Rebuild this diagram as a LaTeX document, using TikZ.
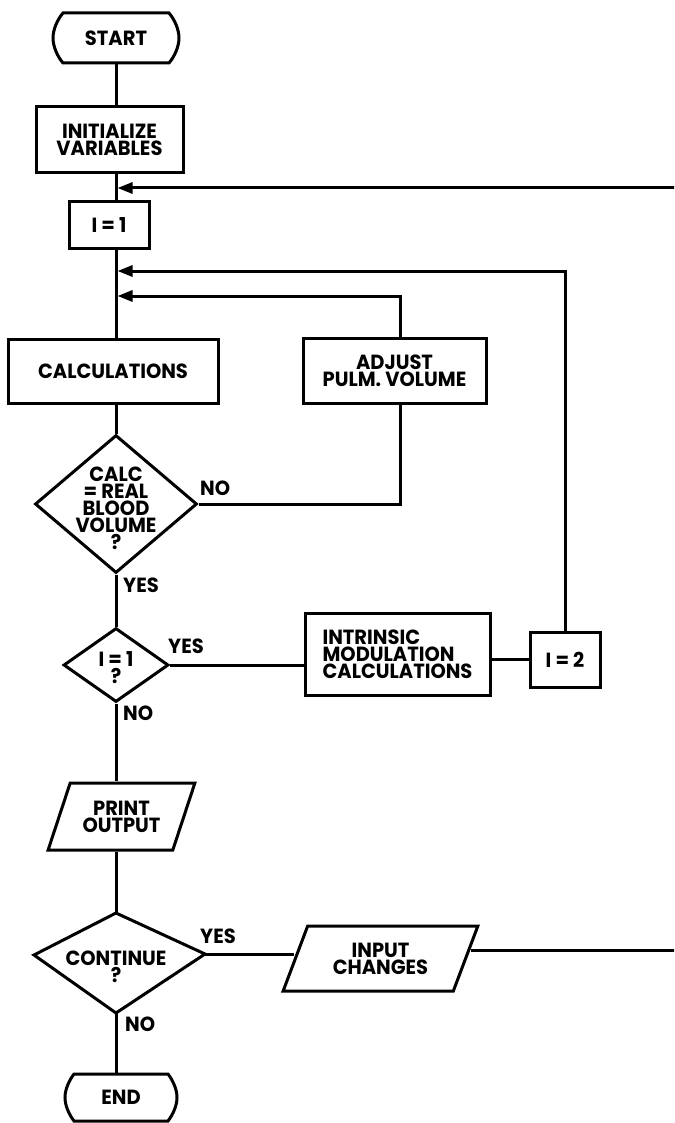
\documentclass[tikz,border=0pt]{standalone}
\usepackage{fontspec}
\setmainfont{Poppins}[FakeStretch=0.95]
\usetikzlibrary{shapes.geometric,arrows.meta,calc}
\tikzset{
  base/.style={font=\bfseries\fontsize{20.5}{17}\selectfont, inner sep=0pt, align=center},
  line/.style={line width=3pt},
  boxnode/.style={base, draw, line width=3pt, rectangle},
  io/.style={base, draw, line width=3pt, trapezium, trapezium stretches=true,
    trapezium left angle=62, trapezium right angle=118},
  dia/.style={draw, diamond, line width=3pt, inner sep=0pt},
  lbl/.style={base, anchor=base west},
  arr/.style={line, -{Triangle[length=15pt,width=11pt]}},
}
\begin{document}
\begin{tikzpicture}[x=1pt,y=-1pt,line join=miter]
\useasboundingbox (0,0) rectangle (674,1123);
\fill[white] (0,0) rectangle (674,1123);
\clip (0,0) rectangle (674,1123);
\coordinate (mx) at (116,0);
% terminals
\node[base, minimum width=126, minimum height=50] (start) at (116,38) {START};
\draw[line, shift={(start.center)}] (-53,-25) -- (53,-25) .. controls (59,-18) and (63,-8) .. (63,0)
  .. controls (63,8) and (59,18) .. (53,25) -- (-53,25) .. controls (-59,18) and (-63,8) .. (-63,0)
  .. controls (-63,-8) and (-59,-18) .. (-53,-25) -- cycle;
\node[base, minimum width=112, minimum height=47] (end) at (121,1097.5) {END};
\draw[line, shift={(end.center)}] (-47,-23.5) -- (47,-23.5) .. controls (52,-17) and (56,-8) .. (56,0)
  .. controls (56,8) and (52,17) .. (47,23.5) -- (-47,23.5) .. controls (-52,17) and (-56,8) .. (-56,0)
  .. controls (-56,-8) and (-52,-17) .. (-47,-23.5) -- cycle;
% boxes
\node[boxnode, minimum width=147, minimum height=66] (init) at (109.5,140) {INITIALIZE\\VARIABLES};
\node[boxnode, minimum width=80, minimum height=46] (i1) at (109,225) {I = 1};
\node[boxnode, minimum width=210, minimum height=64] (calc) at (113,371) {CALCULATIONS};
\node[boxnode, minimum width=183, minimum height=65] (adj) at (394.5,370.5) {ADJUST\\PULM. VOLUME};
\node[boxnode, align=left, minimum width=185, minimum height=82] (intr) at (397.5,654) {INTRINSIC\\MODULATION\\CALCULATIONS};
\node[boxnode, minimum width=70, minimum height=55] (i2) at (565,659.5) {I = 2};
% decisions
\node[dia, minimum width=162, minimum height=138,
  label={[base, yshift=-4pt]center:{CALC\\= REAL\\BLOOD\\VOLUME\\?}}] (d1) at (116,504) {};
\node[dia, minimum width=105, minimum height=74,
  label={[base, yshift=-3pt]center:{I = 1\\?}}] (d2) at (116,665) {};
\coordinate (ctop) at (116,913);
\coordinate (cright) at (205,954);
\coordinate (cbot) at (116,1013);
\coordinate (cleft) at (34,955);
\draw[line] (ctop) -- (cright) -- (cbot) -- (cleft) -- cycle;
\node[base] (cont) at (116,967) {CONTINUE\\?};
% I/O
\node[io, minimum width=147, minimum height=67] (print) at (121.5,816.5) {PRINT\\OUTPUT};
\node[io, trapezium left angle=63, trapezium right angle=117, minimum width=195, minimum height=65] (inp) at (380.5,958.5) {INPUT\\CHANGES};
% labels
\node[lbl] (no1) at (200,495) {NO};
\node[lbl] (yes1) at (123,592) {YES};
\node[lbl] (yes2) at (168,653) {YES};
\node[lbl] (no2) at (123,720) {NO};
\node[lbl] (yes3) at (200,943) {YES};
\node[lbl] (no3) at (125,1031) {NO};
% main flow
\draw[line] (start.south) -- (start.south |- init.north);
\draw[line] (mx |- init.south) -- (mx |- i1.north);
\draw[line] (mx |- i1.south) -- (mx |- calc.north);
\draw[line] (mx |- calc.south) -- (d1.north);
\draw[line] (d1.south) -- (d2.north);
\draw[line] (d2.south) -- (mx |- print.north);
\draw[line] (mx |- print.south) -- (ctop);
\draw[line] (cbot) -- (mx |- end.north);
% loops
\coordinate (a1) at (117.5,188);
\coordinate (a2) at (117.5,271);
\coordinate (a3) at (117.5,296);
\coordinate (ret) at (700,188);
\draw[line] (d1.east) -| ([xshift=5.5pt]adj.south);
\draw[arr] ([xshift=5.5pt]adj.north) |- (a3);
\draw[line] (d2.east) -- (d2.east -| intr.west);
\draw[line] (i2.west) -- (i2.west -| intr.east);
\draw[arr] (i2.north) |- (a2);
\draw[line] (cright) -- (cright -| inp.left side);
\draw[arr] ([shift={(4,-8)}]inp.right side) -| (ret) -- (a1);
\end{tikzpicture}
\end{document}
